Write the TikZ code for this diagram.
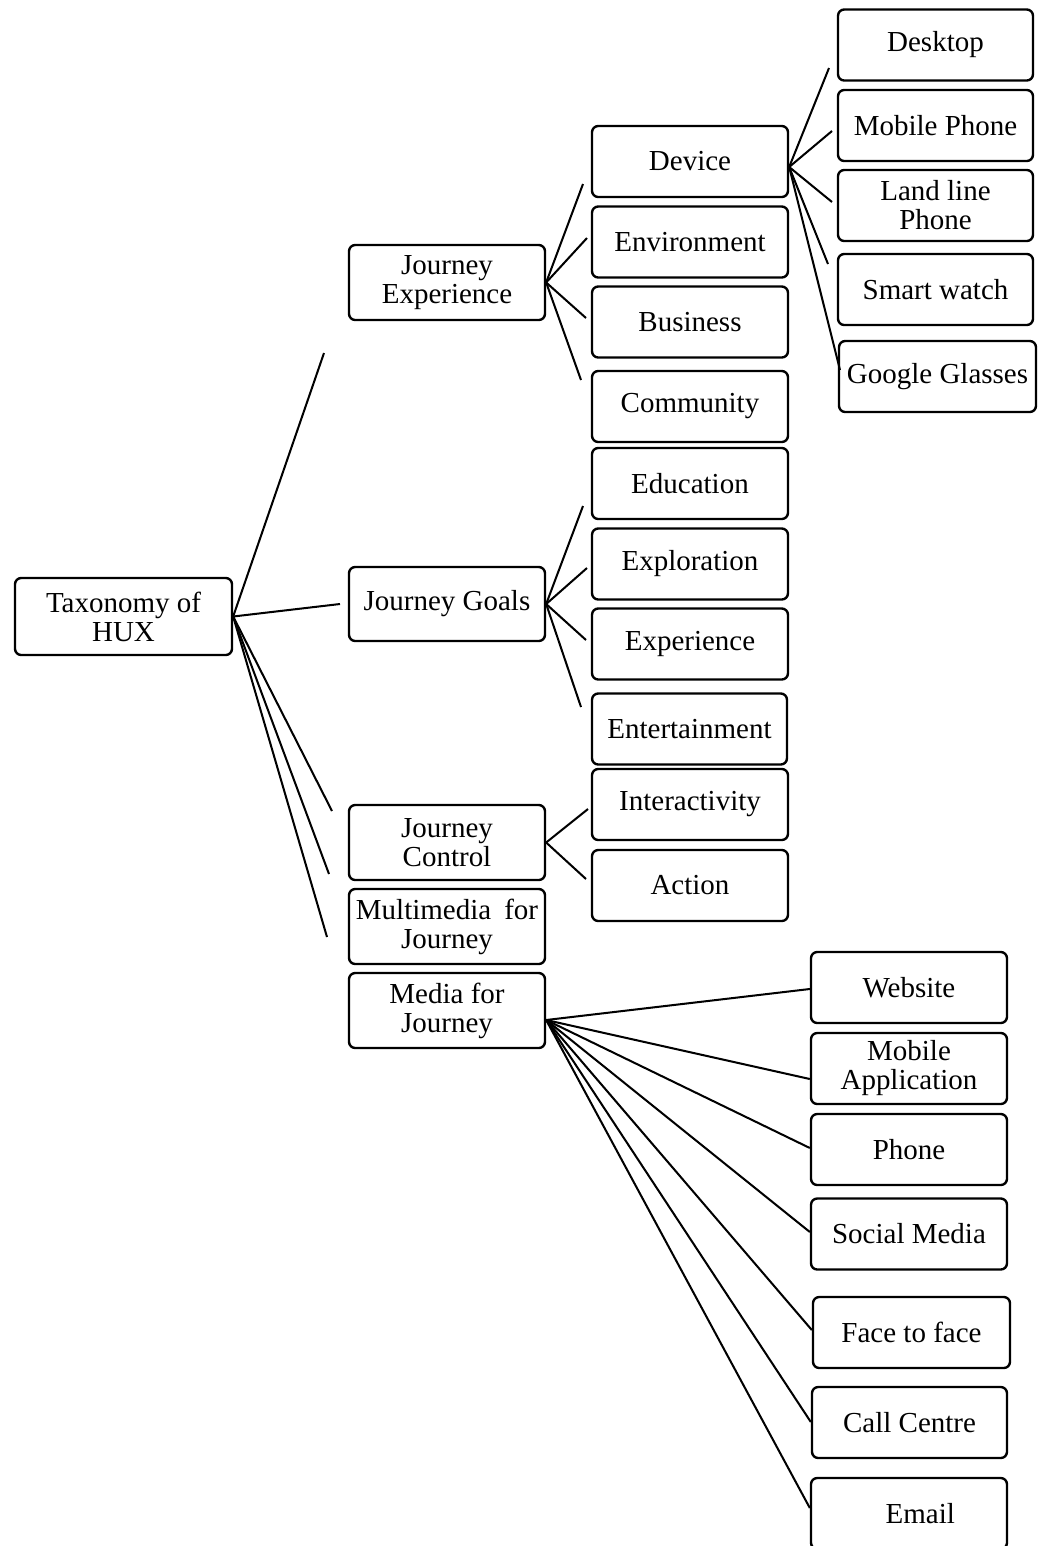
\documentclass[tikz,border=0pt]{standalone}
\usepackage{fontspec}
\setmainfont{Liberation Serif}
\begin{document}
\begin{tikzpicture}[x=0.02cm,y=-0.02cm,
  box/.style={draw, line width=1.35pt, rounded corners=3.5pt, inner sep=0pt,
    align=center, font=\fontsize{16.5}{16.5}\selectfont},
  rootbox/.style={box, minimum width=4.34cm, minimum height=1.54cm},
  catbox/.style={box, minimum width=3.92cm, minimum height=1.50cm},
  leafbox/.style={box, minimum width=3.92cm, minimum height=1.42cm},
  link/.style={line width=1.15pt}]
\useasboundingbox (0,0) rectangle (1039,1546);

% root and first level
\node[rootbox] (root) at (123.5,616.5) {Taxonomy of\\HUX};
\node[catbox] (je)  at (447,282.5)  {Journey\\Experience};
\node[catbox, minimum height=1.48cm] (jg) at (447,604) {Journey Goals};
\node[catbox] (jc)  at (447,842.5)  {Journey\\Control};
\node[catbox] (mmj) at (447,926.5)  {Multimedia\hspace{0.45em}for\\Journey};
\node[catbox] (mfj) at (447,1010.5) {Media for\\Journey};

% second level
\node[leafbox] (dev)  at (690,161.5) {Device};
\node[leafbox] (env)  at (690,242)   {Environment};
\node[leafbox] (bus)  at (690,322)   {Business};
\node[leafbox] (com)  at (690,406.5) {Community};
\node[leafbox] (edu)  at (690,483.5) {Education};
\node[leafbox] (expl) at (690,564)   {Exploration};
\node[leafbox] (expe) at (690,644)   {Experience};
\node[leafbox, minimum width=3.90cm] (ent) at (689.5,729) {Entertainment};
\node[leafbox] (inter) at (690,804.5) {Interactivity};
\node[leafbox] (act)  at (690,885.5) {Action};

% devices
\node[leafbox, minimum width=3.90cm] (desk)  at (935.5,45)    {Desktop};
\node[leafbox, minimum width=3.90cm] (mob)   at (935.5,125.5) {Mobile Phone};
\node[leafbox, minimum width=3.90cm] (land)  at (935.5,205.5) {Land line\\Phone};
\node[leafbox, minimum width=3.90cm] (smart) at (935.5,289.5) {Smart watch};
\node[leafbox, minimum width=3.94cm] (gg)    at (937.5,376.5) {Google Glasses};

% media
\node[leafbox] (web)  at (909,987.5)  {Website};
\node[leafbox] (mapp) at (909,1068.5) {Mobile\\Application};
\node[leafbox] (ph)   at (909,1149.5) {Phone};
\node[leafbox] (sm)   at (909,1234)   {Social Media};
\node[leafbox, minimum width=3.94cm] (f2f) at (911.5,1332.5) {Face to face};
\node[leafbox, minimum width=3.90cm] (cc)  at (909.5,1422.5) {Call Centre};
\node[leafbox] (email) at (909,1513.5) {\hspace*{0.45cm}Email};

% free ends of the connectors
\coordinate (r1) at (324,353);
\coordinate (r2) at (340,604);
\coordinate (r3) at (332,811);
\coordinate (r4) at (329,874);
\coordinate (r5) at (327,937);

\coordinate (e1) at (583,184);
\coordinate (e2) at (587,238);
\coordinate (e3) at (586,318);
\coordinate (e4) at (581,380);

\coordinate (g1) at (583,506);
\coordinate (g2) at (587,568);
\coordinate (g3) at (586,640);
\coordinate (g4) at (581,707);

\coordinate (c1) at (588,809);
\coordinate (c2) at (586,879);

\coordinate (d1) at (829,68);
\coordinate (d2) at (832,131);
\coordinate (d3) at (832,202);
\coordinate (d4) at (828,264);
\coordinate (d5) at (840,370);

\coordinate (devport) at ([yshift=-0.11cm]dev.east);
\coordinate (mfjport) at ([yshift=-0.19cm]mfj.east);

% connectors
\foreach \t in {r1,r2,r3,r4,r5} \draw[link] (root.east) -- (\t);
\foreach \t in {e1,e2,e3,e4} \draw[link] (je.east) -- (\t);
\foreach \t in {g1,g2,g3,g4} \draw[link] (jg.east) -- (\t);
\foreach \t in {c1,c2} \draw[link] (jc.east) -- (\t);
\foreach \t in {d1,d2,d3,d4,d5} \draw[link] (devport) -- (\t);

\draw[link] (mfjport) -- ([yshift=-0.03cm]web.west);
\draw[link] (mfjport) -- ([yshift=-0.21cm]mapp.west);
\draw[link] (mfjport) -- ([yshift=0.03cm]ph.west);
\draw[link] (mfjport) -- ([yshift=0.04cm]sm.west);
\draw[link] (mfjport) -- ([yshift=0.05cm]f2f.west);
\draw[link] (mfjport) -- ([yshift=0.01cm]cc.west);
\draw[link] (mfjport) -- ([yshift=0.11cm]email.west);
\end{tikzpicture}
\end{document}
